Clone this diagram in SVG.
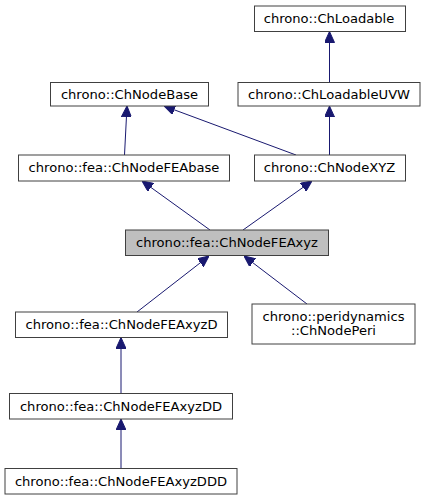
<svg xmlns="http://www.w3.org/2000/svg" width="426" height="500" viewBox="0 0 426 500">
<style>
.n rect{fill:#ffffff;stroke:#404040;stroke-width:1}
.n.cur rect{fill:#bfbfbf}
.n text{font-family:"DejaVu Sans",sans-serif;font-size:13.1px;fill:#000000;text-anchor:middle}
.e line{stroke:#191970;stroke-width:1;marker-end:url(#ah)}
</style>
<defs>
<marker id="ah" viewBox="0 0 11 10" refX="11" refY="5" markerWidth="11" markerHeight="10" markerUnits="userSpaceOnUse" orient="auto">
<path d="M0,0 L11,5 L0,10 z" fill="#191970" stroke="#191970" stroke-width="1"/>
</marker>
</defs>
<rect x="0" y="0" width="426" height="500" fill="#ffffff"/>
<g class="e">
<line x1="329.5" y1="83" x2="329.5" y2="31.5"/>
<line x1="124.5" y1="155" x2="127" y2="106"/>
<line x1="296" y1="155" x2="164" y2="106"/>
<line x1="329.5" y1="155" x2="329.5" y2="106"/>
<line x1="210" y1="230" x2="142" y2="181"/>
<line x1="243" y1="230" x2="312" y2="181"/>
<line x1="137" y1="312" x2="209" y2="256"/>
<line x1="307" y1="304" x2="244" y2="256"/>
<line x1="121" y1="393.5" x2="121" y2="337.5"/>
<line x1="121" y1="468.5" x2="121" y2="419"/>
</g>
<g id="ChLoadable" class="n"><rect x="254.5" y="6" width="151" height="25.5"/><text x="329" y="23">chrono::ChLoadable</text></g>
<g id="ChNodeBase" class="n"><rect x="50.5" y="82.5" width="158" height="23.5"/><text x="129.5" y="99">chrono::ChNodeBase</text></g>
<g id="ChLoadableUVW" class="n"><rect x="238" y="82.5" width="182" height="23.5"/><text x="329" y="99">chrono::ChLoadableUVW</text></g>
<g id="ChNodeFEAbase" class="n"><rect x="18.5" y="155" width="211" height="26"/><text x="124" y="172">chrono::fea::ChNodeFEAbase</text></g>
<g id="ChNodeXYZ" class="n"><rect x="254.5" y="155" width="151" height="26"/><text x="329.5" y="172">chrono::ChNodeXYZ</text></g>
<g id="ChNodeFEAxyz" class="n cur"><rect x="125.5" y="230" width="203" height="25.5"/><text x="227" y="247">chrono::fea::ChNodeFEAxyz</text></g>
<g id="ChNodeFEAxyzD" class="n"><rect x="15.5" y="312" width="212" height="25.5"/><text x="121.5" y="329">chrono::fea::ChNodeFEAxyzD</text></g>
<g id="ChNodePeri" class="n"><rect x="252" y="304" width="163" height="40"/><text x="333.5" y="320.5">chrono::peridynamics</text><text x="333.5" y="335">::ChNodePeri</text></g>
<g id="ChNodeFEAxyzDD" class="n"><rect x="9.5" y="393.5" width="223" height="25.5"/><text x="121" y="410.5">chrono::fea::ChNodeFEAxyzDD</text></g>
<g id="ChNodeFEAxyzDDD" class="n"><rect x="5" y="468.5" width="232" height="25.5"/><text x="121" y="485.5">chrono::fea::ChNodeFEAxyzDDD</text></g>
</svg>
